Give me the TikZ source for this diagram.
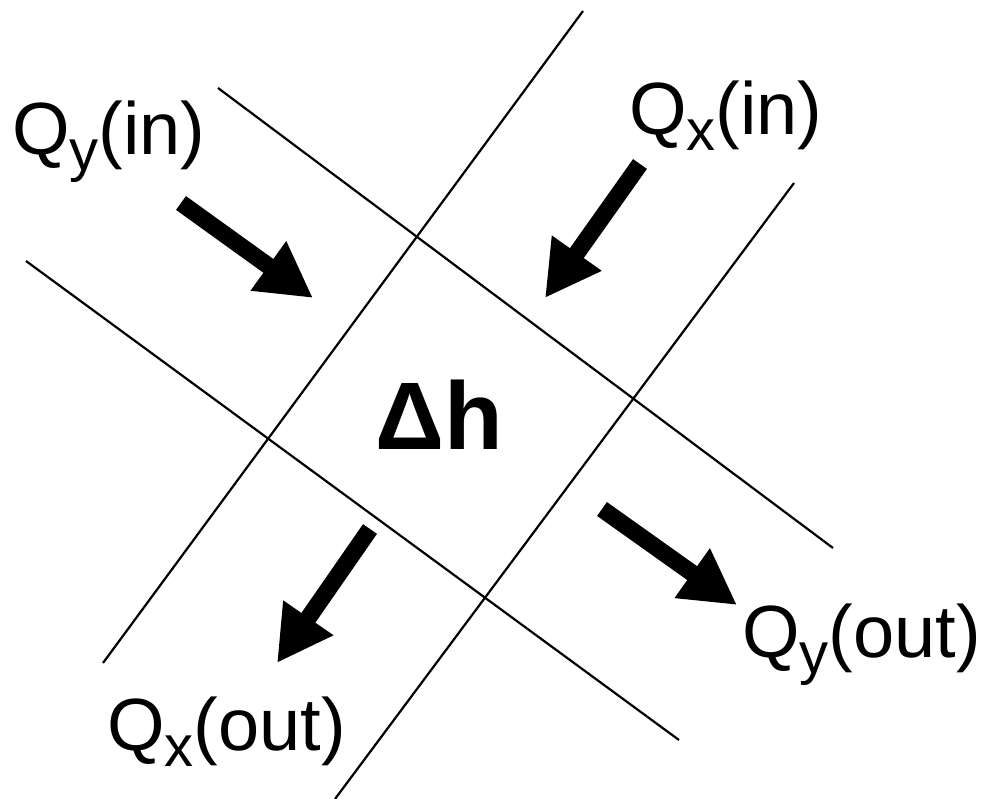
\documentclass[tikz,border=0pt]{standalone}
\usepackage{fontspec}
\setmainfont{Liberation Sans}
\usetikzlibrary{arrows.meta}
\newcommand{\qsub}[1]{\raisebox{-16pt}{\fontsize{58}{60}\selectfont #1}}
\tikzset{
  gridline/.style={line width=2.2pt, black},
  flowarrow/.style={line width=17pt, black, -{Triangle[width=57pt 0 0, length=55pt 0 0]}},
  lbl/.style={inner sep=0pt, anchor=base west, font=\fontsize{74}{80}\selectfont},
}
\begin{document}
\begin{tikzpicture}[x=1pt,y=-1pt]
\useasboundingbox (0,0) rectangle (985,799);
% grid line end points
\coordinate (a1) at (218,88);  \coordinate (a2) at (833,548);
\coordinate (b1) at (26,261);  \coordinate (b2) at (679,740);
\coordinate (c1) at (583,11);  \coordinate (c2) at (103,663);
\coordinate (d1) at (794,183); \coordinate (d2) at (335,799);
\draw[gridline] (a1) -- (a2);
\draw[gridline] (b1) -- (b2);
\draw[gridline] (c1) -- (c2);
\draw[gridline] (d1) -- (d2);
% arrows
\coordinate (yin1) at (181,203);  \coordinate (yin2) at (313,298);
\coordinate (xin1) at (640,164);  \coordinate (xin2) at (545,298);
\coordinate (xout1) at (370,529); \coordinate (xout2) at (277,663);
\coordinate (yout1) at (602,509); \coordinate (yout2) at (737,605);
\draw[flowarrow] (yin1) -- (yin2);
\draw[flowarrow] (xin1) -- (xin2);
\draw[flowarrow] (xout1) -- (xout2);
\draw[flowarrow] (yout1) -- (yout2);
% labels
\node[lbl] (tyin) at (12,155) {Q\qsub{y}(in)};
\node[lbl] (txin) at (629,135) {Q\qsub{x}(in)};
\node[lbl] (tyout) at (742,657) {Q\qsub{y}(out)};
\node[lbl] (txout) at (107,750) {Q\qsub{x}(out)};
\node[inner sep=0pt, anchor=base west, font=\fontsize{96}{100}\selectfont\bfseries] (dh) at (375,449) {Δh};
\end{tikzpicture}
\end{document}
